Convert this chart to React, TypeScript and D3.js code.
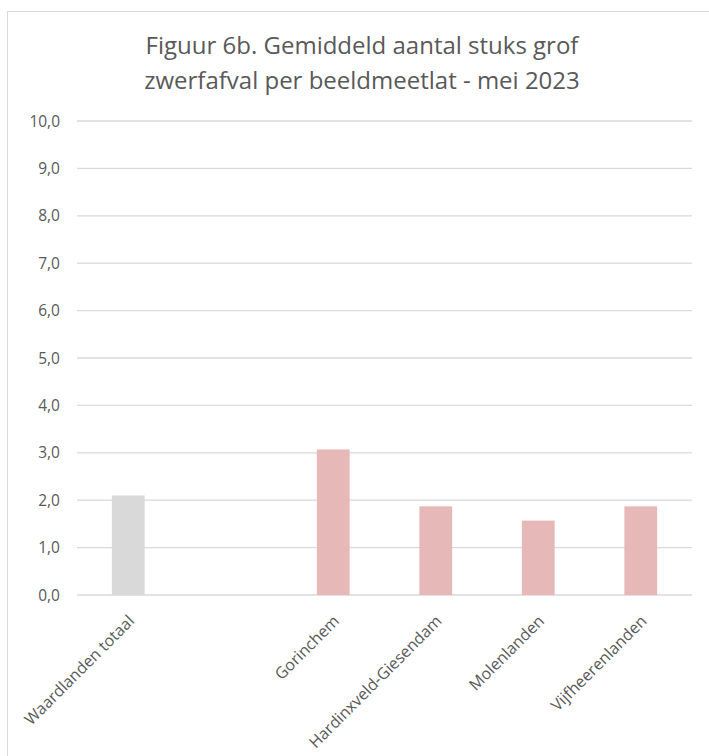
import React from "react";
import * as d3 from "d3";

const categories = ["Waardlanden totaal", "", "Gorinchem", "Hardinxveld-Giesendam", "Molenlanden", "Vijfheerenlanden"];
const values: (number | null)[] = [2.1, null, 3.07, 1.87, 1.57, 1.87];
const barColors = ["#D9D9D9", "#E6B8B7", "#E6B8B7", "#E6B8B7", "#E6B8B7", "#E6B8B7"];
const yTicks = [0, 1, 2, 3, 4, 5, 6, 7, 8, 9, 10];
const titleLines = ["Figuur 6b. Gemiddeld aantal stuks grof", "zwerfafval per beeldmeetlat - mei 2023"];

const W = 709;
const H = 756;
const plot = { left: 77, right: 692, top: 121, bottom: 595 };
const FONT = "'Open Sans', sans-serif";

export default function App() {
  const x = d3.scaleBand<string>().domain(categories.map((c, i) => i + ":" + c)).range([plot.left, plot.right]).paddingInner(0).paddingOuter(0);
  const y = d3.scaleLinear().domain([0, 10]).range([plot.bottom, plot.top]);
  const bw = x.bandwidth() * 0.32;
  const fmt = (v: number) => v.toFixed(1).replace(".", ",");
  return (
    <div style={{ position: "fixed", left: 0, top: 0 }}>
      <svg width={W} height={H} style={{ display: "block" }}>
        <rect x={0} y={0} width={W} height={H} fill="#fff" />
        <rect x={7.5} y={11.5} width={W + 20} height={H + 20} fill="none" stroke="#D9D9D9" strokeWidth={1} />
        {titleLines.map((t, i) => (
          <text key={i} x={362} y={54 + i * 35} textAnchor="middle" fontFamily={FONT} fontSize={24} fill="#595959">
            {t}
          </text>
        ))}
        {yTicks.map((t) => (
          <g key={t}>
            <line x1={plot.left} x2={plot.right} y1={y(t)} y2={y(t)} stroke="#D9D9D9" strokeWidth={1.3} />
            <text x={60} y={y(t)} dy="0.36em" textAnchor="end" fontFamily={FONT} fontSize={15.5} fill="#595959">
              {fmt(t)}
            </text>
          </g>
        ))}
        {categories.map((c, i) => {
          const v = values[i];
          const key = i + ":" + c;
          const cx = (x(key) as number) + x.bandwidth() / 2;
          return (
            <g key={key}>
              {v !== null && (
                <rect x={cx - bw / 2} y={y(v)} width={bw} height={y(0) - y(v)} fill={barColors[i]} />
              )}
              {c && (
                <text
                  transform={`translate(${cx + 7},${plot.bottom + 27}) rotate(-45)`}
                  textAnchor="end"
                  fontFamily={FONT}
                  fontSize={16}
                  fill="#595959"
                >
                  {c}
                </text>
              )}
            </g>
          );
        })}
      </svg>
    </div>
  );
}
